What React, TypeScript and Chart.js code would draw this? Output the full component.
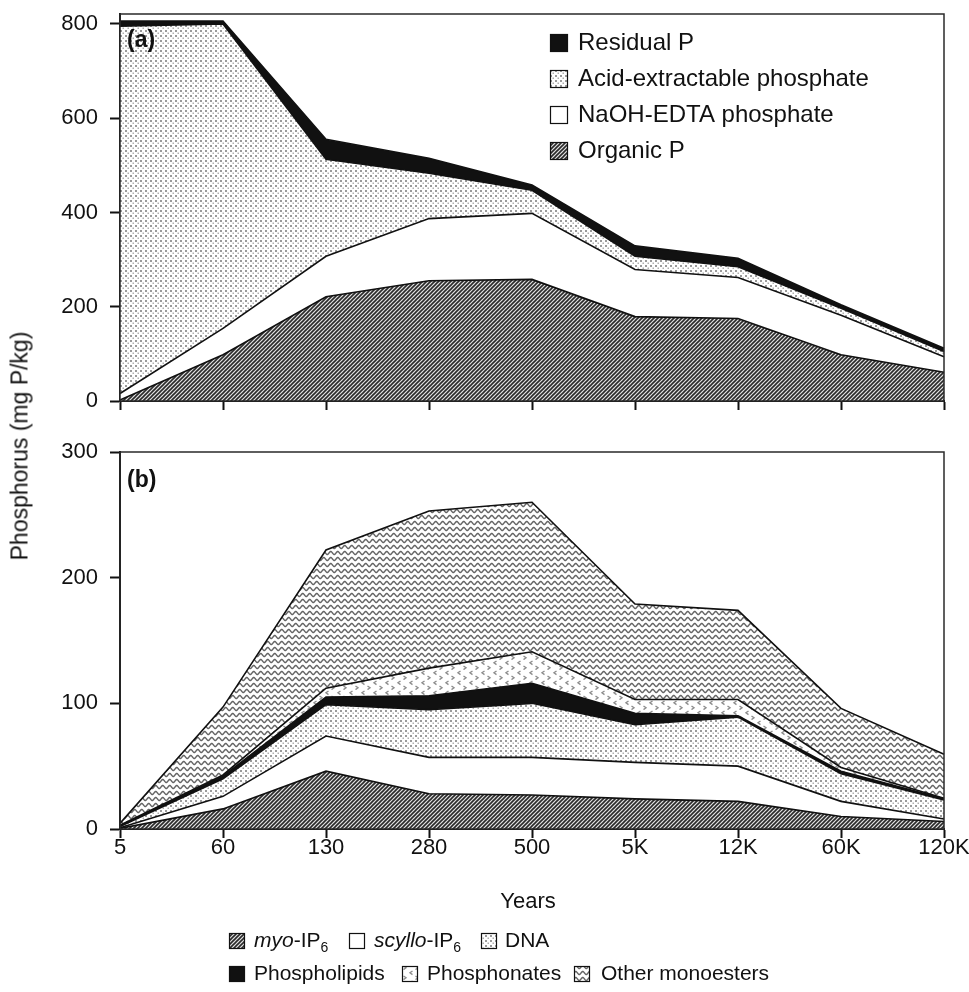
import React, { useEffect, useRef } from 'react';
import { Chart, registerables } from 'chart.js';

Chart.register(...registerables);

const FONT = '"Liberation Sans", Arial, Helvetica, sans-serif';
const INK = '#111111';

// ---------- data (mg P/kg) ----------
const years = ['5', '60', '130', '280', '500', '5K', '12K', '60K', '120K'];

// panel (a), stacked bottom -> top
const organicP = [2, 98, 221, 255, 258, 179, 175, 98, 61];
const naohEdtaP = [14, 56, 86, 132, 140, 100, 87, 84, 33];
const acidExtractableP = [779, 646, 206, 96, 49, 28, 23, 15, 11];
const residualP = [11, 6, 42, 32, 11, 22, 18, 7, 7];

// panel (b), stacked bottom -> top
const myoIP6 = [0.5, 16, 46, 28, 27, 24, 22, 10, 6];
const scylloIP6 = [0.5, 10, 28, 29, 30, 29, 28, 12, 2];
const dna = [1, 14, 25, 38, 43, 30, 39, 22, 15];
const phospholipids = [0.5, 2, 6, 11, 16, 9, 1, 2, 1];
const phosphonates = [0.5, 1, 7, 22, 25, 11, 13, 3, 0.5];
const otherMonoesters = [1.5, 54, 110, 125, 119, 76, 71, 47, 35];

const topYTicks = [0, 200, 400, 600, 800];
const topYMax = 821;
const botYTicks = [0, 100, 200, 300];
const botYMax = 300;

type Pats = { hatch: any; dots: any; wavy: any; chevron: any };

function tile(w: number, h: number, draw: (g: CanvasRenderingContext2D) => void) {
  const c = document.createElement('canvas');
  c.width = w;
  c.height = h;
  const g = c.getContext('2d') as CanvasRenderingContext2D;
  draw(g);
  return c;
}

function makePatterns(ctx: CanvasRenderingContext2D): Pats {
  const hatch = tile(4, 4, (g) => {
    g.fillStyle = '#e2e2e2';
    g.fillRect(0, 0, 4, 4);
    g.strokeStyle = '#2a2a2a';
    g.lineWidth = 1.6;
    g.beginPath();
    g.moveTo(-1, 5); g.lineTo(5, -1);
    g.moveTo(-1, 1); g.lineTo(1, -1);
    g.moveTo(3, 5); g.lineTo(5, 3);
    g.stroke();
  });
  const dots = tile(5, 5, (g) => {
    g.fillStyle = '#ffffff';
    g.fillRect(0, 0, 5, 5);
    g.fillStyle = '#9a9a9a';
    g.fillRect(0, 0, 2, 2);
    g.fillStyle = '#b0b0b0';
    g.fillRect(2.5, 2.5, 1.5, 1.5);
  });
  const wavy = tile(7, 6, (g) => {
    g.fillStyle = '#ffffff';
    g.fillRect(0, 0, 7, 6);
    g.strokeStyle = '#656565';
    g.lineWidth = 1.4;
    for (const off of [-6, 0, 6]) {
      g.beginPath();
      for (let i = -2; i <= 18; i++) {
        const x = i * 0.5;
        const y = 3 + off - 1.5 * Math.sin((2 * Math.PI * x) / 7);
        if (i === -2) g.moveTo(x, y); else g.lineTo(x, y);
      }
      g.stroke();
    }
  });
  const chevron = tile(12, 10, (g) => {
    g.fillStyle = '#ffffff';
    g.fillRect(0, 0, 12, 10);
    g.strokeStyle = '#8e8e8e';
    g.lineWidth = 1.4;
    g.beginPath();
    g.moveTo(4.5, 1); g.lineTo(2, 2.8); g.lineTo(4.5, 4.6);
    g.moveTo(7.5, 6); g.lineTo(10, 7.8); g.lineTo(7.5, 9.6);
    g.stroke();
  });
  return {
    hatch: ctx.createPattern(hatch, 'repeat'),
    dots: ctx.createPattern(dots, 'repeat'),
    wavy: ctx.createPattern(wavy, 'repeat'),
    chevron: ctx.createPattern(chevron, 'repeat'),
  };
}

function yScale(max: number, ticks: number[]) {
  return {
    type: 'linear',
    stacked: true,
    min: 0,
    max,
    afterBuildTicks: (axis: any) => {
      axis.ticks = ticks.map((v) => ({ value: v }));
    },
    afterFit: (axis: any) => {
      axis.width = 120;
      axis.paddingTop = 0;
      axis.paddingBottom = 0;
    },
    border: { display: true, color: INK, width: 2 },
    grid: { drawOnChartArea: false, drawTicks: true, tickLength: 10, tickColor: INK, tickWidth: 2 },
    ticks: { color: INK, font: { family: FONT, size: 22 }, padding: 12 },
  };
}

function xScale(showLabels: boolean, height: number) {
  return {
    type: 'category',
    offset: false,
    afterFit: (axis: any) => {
      axis.height = height;
      axis.paddingLeft = 0;
      axis.paddingRight = 0;
    },
    border: { display: true, color: INK, width: 2 },
    grid: { drawOnChartArea: false, drawTicks: true, tickLength: 9, tickColor: INK, tickWidth: 2 },
    ticks: {
      display: showLabels,
      color: INK,
      font: { family: FONT, size: 22 },
      padding: -3,
      autoSkip: false,
      maxRotation: 0,
    },
  };
}

function ds(label: string, data: number[], bg: any, first: boolean) {
  return {
    label,
    data,
    backgroundColor: bg,
    borderColor: INK,
    borderWidth: 1.6,
    pointRadius: 0,
    tension: 0,
    fill: first ? 'origin' : '-1',
  };
}

function swatch(ctx: CanvasRenderingContext2D, x: number, y: number, s: number, fill: any) {
  ctx.fillStyle = fill;
  ctx.fillRect(x, y, s, s);
  ctx.strokeStyle = INK;
  ctx.lineWidth = 1.2;
  ctx.strokeRect(x + 0.5, y + 0.5, s - 1, s - 1);
}

type Part = { t: string; it?: boolean; sub?: boolean };

function rich(ctx: CanvasRenderingContext2D, parts: Part[], x: number, yMid: number, size: number) {
  let cx = x;
  ctx.textBaseline = 'middle';
  ctx.textAlign = 'left';
  ctx.fillStyle = INK;
  for (const p of parts) {
    const sz = p.sub ? Math.round(size * 0.66) : size;
    ctx.font = `${p.it ? 'italic ' : ''}${sz}px ${FONT}`;
    ctx.fillText(p.t, cx, p.sub ? yMid + size * 0.32 : yMid);
    cx += ctx.measureText(p.t).width;
  }
}

function frame(ctx: CanvasRenderingContext2D, a: any) {
  ctx.strokeStyle = '#2a2a2a';
  ctx.lineWidth = 1.5;
  ctx.strokeRect(a.left, a.top, a.right - a.left, a.bottom - a.top);
}

export default function App() {
  const topRef = useRef<HTMLCanvasElement>(null);
  const botRef = useRef<HTMLCanvasElement>(null);

  useEffect(() => {
    const c1 = topRef.current as HTMLCanvasElement;
    const c2 = botRef.current as HTMLCanvasElement;
    const ctx1 = c1.getContext('2d') as CanvasRenderingContext2D;
    const ctx2 = c2.getContext('2d') as CanvasRenderingContext2D;
    const p1 = makePatterns(ctx1);
    const p2 = makePatterns(ctx2);

    const topDecor = {
      id: 'topDecor',
      afterDraw(chart: any) {
        const ctx = chart.ctx as CanvasRenderingContext2D;
        const a = chart.chartArea;
        ctx.save();
        frame(ctx, a);
        ctx.font = `bold 23px ${FONT}`;
        ctx.fillStyle = INK;
        ctx.textBaseline = 'middle';
        ctx.textAlign = 'left';
        ctx.fillText('(a)', a.left + 7, 41);
        const items: [string, any][] = [
          ['Residual P', INK],
          ['Acid-extractable phosphate', p1.dots],
          ['NaOH-EDTA phosphate', '#ffffff'],
          ['Organic P', p1.hatch],
        ];
        const rows = [43, 79, 115, 151];
        items.forEach(([label, fill], i) => {
          swatch(ctx, 550, rows[i] - 9, 18, fill);
          rich(ctx, [{ t: label }], 578, rows[i], 24);
        });
        ctx.restore();
      },
    };

    const botDecor = {
      id: 'botDecor',
      afterDraw(chart: any) {
        const ctx = chart.ctx as CanvasRenderingContext2D;
        const a = chart.chartArea;
        ctx.save();
        frame(ctx, a);
        ctx.font = `bold 23px ${FONT}`;
        ctx.fillStyle = INK;
        ctx.textBaseline = 'middle';
        ctx.textAlign = 'left';
        ctx.fillText('(b)', a.left + 7, 51);
        // x-axis title
        ctx.font = `22px ${FONT}`;
        ctx.textAlign = 'center';
        ctx.fillText('Years', 528, 472);
        // legend
        const r1 = 511;
        const r2 = 544;
        const S = 16;
        const L = 229;
        swatch(ctx, L, r1 - 8, S, p2.hatch);
        rich(ctx, [{ t: 'myo', it: true }, { t: '-IP' }, { t: '6', sub: true }], L + 25, r1, 21);
        swatch(ctx, L + 120, r1 - 8, S, '#ffffff');
        rich(ctx, [{ t: 'scyllo', it: true }, { t: '-IP' }, { t: '6', sub: true }], L + 145, r1, 21);
        swatch(ctx, L + 252, r1 - 8, S, p2.dots);
        rich(ctx, [{ t: 'DNA' }], L + 276, r1, 21);
        swatch(ctx, L, r2 - 8, S, INK);
        rich(ctx, [{ t: 'Phospholipids' }], L + 25, r2, 21);
        swatch(ctx, L + 173, r2 - 8, S, p2.chevron);
        rich(ctx, [{ t: 'Phosphonates' }], L + 198, r2, 21);
        swatch(ctx, L + 345, r2 - 8, S, p2.wavy);
        rich(ctx, [{ t: 'Other monoesters' }], L + 372, r2, 21);
        ctx.restore();
      },
    };

    const baseOpts = (yMax: number, yTicks: number[], showX: boolean, xH: number, pad: any) => ({
      responsive: false,
      animation: false,
      events: [],
      layout: { padding: pad },
      plugins: {
        legend: { display: false },
        tooltip: { enabled: false },
        filler: { propagate: false, drawTime: 'beforeDatasetsDraw' },
      },
      scales: {
        x: xScale(showX, xH),
        y: yScale(yMax, yTicks),
      },
    });

    const chart1 = new Chart(ctx1, {
      type: 'line',
      data: {
        labels: years,
        datasets: [
          ds('Organic P', organicP, p1.hatch, true),
          ds('NaOH-EDTA phosphate', naohEdtaP, '#ffffff', false),
          ds('Acid-extractable phosphate', acidExtractableP, p1.dots, false),
          ds('Residual P', residualP, INK, false),
        ],
      },
      options: baseOpts(topYMax, topYTicks, false, 12, { top: 14, right: 25, bottom: 17, left: 0 }) as any,
      plugins: [topDecor],
    } as any);

    const chart2 = new Chart(ctx2, {
      type: 'line',
      data: {
        labels: years,
        datasets: [
          ds('myo-IP6', myoIP6, p2.hatch, true),
          ds('scyllo-IP6', scylloIP6, '#ffffff', false),
          ds('DNA', dna, p2.dots, false),
          ds('Phospholipids', phospholipids, INK, false),
          ds('Phosphonates', phosphonates, p2.chevron, false),
          ds('Other monoesters', otherMonoesters, p2.wavy, false),
        ],
      },
      options: baseOpts(botYMax, botYTicks, true, 40, { top: 22, right: 25, bottom: 123, left: 0 }) as any,
      plugins: [botDecor],
    } as any);

    return () => {
      chart1.destroy();
      chart2.destroy();
    };
  }, []);

  return (
    <div style={{ position: 'absolute', left: 0, top: 0, width: 969, height: 992, background: '#fff', overflow: 'hidden' }}>
      <canvas ref={topRef} width={969} height={430} style={{ position: 'absolute', left: 0, top: 0, width: 969, height: 430 }} />
      <canvas ref={botRef} width={969} height={562} style={{ position: 'absolute', left: 0, top: 430, width: 969, height: 562 }} />
      <div
        style={{
          position: 'absolute',
          left: 20,
          top: 446,
          transform: 'translate(-50%, -50%) rotate(-90deg)',
          font: `23px ${FONT}`,
          color: INK,
          whiteSpace: 'nowrap',
        }}
      >
        Phosphorus (mg P/kg)
      </div>
    </div>
  );
}
